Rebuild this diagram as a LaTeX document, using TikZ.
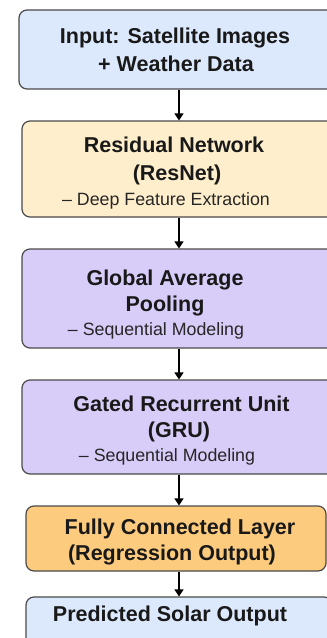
\documentclass[tikz,border=0pt]{standalone}
\usepackage{fontspec}
\setmainfont{Liberation Sans}
\usetikzlibrary{arrows.meta}
\definecolor{cblue}{HTML}{DCE8FC}
\definecolor{ccream}{HTML}{FFEECC}
\definecolor{clav}{HTML}{D8CCF8}
\definecolor{corange}{HTML}{FDCB7E}
\definecolor{cedge}{HTML}{4A4A4A}
\tikzset{
  boxnode/.style={draw=cedge, line width=1.2pt, rounded corners=8pt, inner sep=0pt},
  titletext/.style={anchor=base, inner sep=0pt, font=\fontsize{21.5}{26}\selectfont\bfseries, text=black!90},
  subtext/.style={anchor=base, inner sep=0pt, font=\fontsize{17.8}{22}\selectfont, text=black!85},
  arr/.style={line width=1.2pt, -{Triangle[length=7pt,width=9pt]}}
}
\begin{document}
\begin{tikzpicture}[x=1pt,y=-1pt]
\useasboundingbox (0,0) rectangle (327,638);
\clip (0,0) rectangle (327,638);
% boxes
\node[boxnode, fill=cblue,   minimum width=321pt, minimum height=79pt] (b1) at (179.5,49.5) {};
\node[boxnode, fill=ccream,  minimum width=318pt, minimum height=96pt] (b2) at (181,169) {};
\node[boxnode, fill=clav,    minimum width=318pt, minimum height=99pt] (b3) at (181,298.5) {};
\node[boxnode, fill=clav,    minimum width=318pt, minimum height=94pt] (b4) at (181,427) {};
\node[boxnode, fill=corange, minimum width=300pt, minimum height=65pt] (b5) at (176,538.5) {};
\node[boxnode, fill=cblue,   minimum width=306pt, minimum height=63pt] (b6) at (179,628.5) {};
% texts
\node[titletext] (t1a) at (175,43) {Input: Satellite Images};
\node[titletext] (t1b) at (176,71) {+ Weather Data};
\node[titletext] (t2a) at (174,152) {Residual Network};
\node[titletext] (t2b) at (177,180) {(ResNet)};
\node[subtext]   (t2c) at (166,205.5) {– Deep Feature Extraction};
\node[titletext] (t3a) at (165,285) {Global Average};
\node[titletext] (t3b) at (165,311) {Pooling};
\node[subtext]   (t3c) at (156,335) {– Sequential Modeling};
\node[titletext] (t4a) at (181.5,411) {Gated Recurrent Unit};
\node[titletext] (t4b) at (179,437) {(GRU)};
\node[subtext]   (t4c) at (167,461) {– Sequential Modeling};
\node[titletext] (t5a) at (180,534) {Fully Connected Layer};
\node[titletext] (t5b) at (172,560) {(Regression Output)};
\node[titletext] (t6a) at (170,621) {Predicted Solar Output};
% arrows
\coordinate (ax) at (179,0);
\draw[arr] (b1.south -| ax) -- (b2.north -| ax);
\draw[arr] (b2.south -| ax) -- (b3.north -| ax);
\draw[arr] (b3.south -| ax) -- (b4.north -| ax);
\draw[arr] (b4.south -| ax) -- (b5.north -| ax);
\draw[arr] (b5.south -| ax) -- (b6.north -| ax);
\end{tikzpicture}
\end{document}
